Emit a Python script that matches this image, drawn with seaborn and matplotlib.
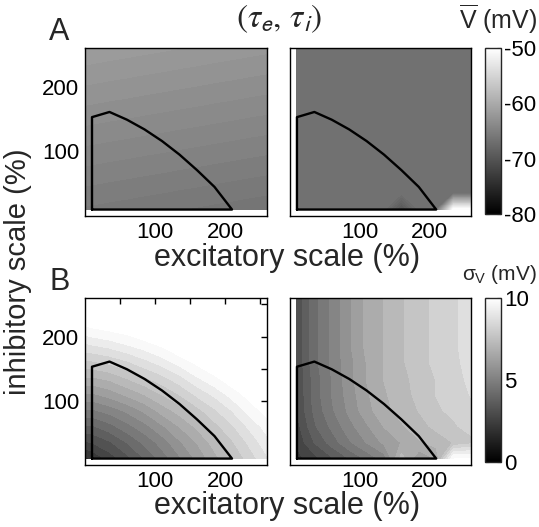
import numpy as np
import matplotlib
matplotlib.use("Agg")
import matplotlib.pyplot as plt
import seaborn as sns
from matplotlib.cm import ScalarMappable
from matplotlib.colors import Normalize

nan = np.nan

# Grid of synaptic scalings (% of control)
exc_scale = [0, 10, 35, 60, 85, 110, 135, 160, 185, 210, 235, 260]
inh_scale = [10, 35, 60, 85, 110, 135, 160, 185, 210, 235, 260]

# Mean membrane potential (mV), rows follow inh_scale, columns exc_scale
v_mean_left = [
    [-65.58, -65.61, -65.69, -65.76, -65.84, -65.91, -65.99, -66.06, -66.14, -66.21, -66.29, -66.36],
    [-65.18, -65.21, -65.29, -65.36, -65.44, -65.51, -65.59, -65.66, -65.74, -65.81, -65.89, -65.96],
    [-64.78, -64.81, -64.89, -64.96, -65.04, -65.11, -65.19, -65.26, -65.34, -65.41, -65.49, -65.56],
    [-64.38, -64.41, -64.49, -64.56, -64.64, -64.71, -64.79, -64.86, -64.94, -65.01, -65.09, -65.16],
    [-63.98, -64.01, -64.09, -64.16, -64.24, -64.31, -64.39, -64.46, -64.54, -64.61, -64.69, -64.76],
    [-63.58, -63.61, -63.69, -63.76, -63.84, -63.91, -63.99, -64.06, -64.14, -64.21, -64.29, -64.36],
    [-63.18, -63.21, -63.29, -63.36, -63.44, -63.51, -63.59, -63.66, -63.74, -63.81, -63.89, -63.96],
    [-62.78, -62.81, -62.89, -62.96, -63.04, -63.11, -63.19, -63.26, -63.34, -63.41, -63.49, -63.56],
    [-62.38, -62.41, -62.49, -62.56, -62.64, -62.71, -62.79, -62.86, -62.94, -63.01, -63.09, -63.16],
    [-61.98, -62.01, -62.09, -62.16, -62.24, -62.31, -62.39, -62.46, -62.54, -62.61, -62.69, -62.76],
    [-61.58, -61.61, -61.69, -61.76, -61.84, -61.91, -61.99, -62.06, -62.14, -62.21, -62.29, -62.36],
]
v_mean_right = [
    [nan, -66.9, -66.9, -66.9, -66.9, -66.9, -66.9, -70.0, -66.9, -66.9, -49.5, -49.5],
    [nan, -66.9, -66.9, -66.9, -66.9, -66.9, -66.9, -66.9, -66.9, -66.9, -66.9, -66.9],
    [nan, -66.9, -66.9, -66.9, -66.9, -66.9, -66.9, -66.9, -66.9, -66.9, -66.9, -66.9],
    [nan, -66.9, -66.9, -66.9, -66.9, -66.9, -66.9, -66.9, -66.9, -66.9, -66.9, -66.9],
    [nan, -66.9, -66.9, -66.9, -66.9, -66.9, -66.9, -66.9, -66.9, -66.9, -66.9, -66.9],
    [nan, -66.9, -66.9, -66.9, -66.9, -66.9, -66.9, -66.9, -66.9, -66.9, -66.9, -66.9],
    [nan, -66.9, -66.9, -66.9, -66.9, -66.9, -66.9, -66.9, -66.9, -66.9, -66.9, -66.9],
    [nan, -66.9, -66.9, -66.9, -66.9, -66.9, -66.9, -66.9, -66.9, -66.9, -66.9, -66.9],
    [nan, -66.9, -66.9, -66.9, -66.9, -66.9, -66.9, -66.9, -66.9, -66.9, -66.9, -66.9],
    [nan, -66.9, -66.9, -66.9, -66.9, -66.9, -66.9, -66.9, -66.9, -66.9, -66.9, -66.9],
    [nan, -66.9, -66.9, -66.9, -66.9, -66.9, -66.9, -66.9, -66.9, -66.9, -66.9, -66.9],
]

# Standard deviation of the membrane potential (mV)
v_std_left = [
    [1.9, 2.0, 2.7, 3.3, 4.0, 4.7, 5.4, 6.1, 6.8, 7.5, 8.2, 8.9],
    [2.9, 3.0, 3.4, 4.0, 4.6, 5.2, 5.9, 6.5, 7.2, 7.9, 8.6, 9.3],
    [3.9, 3.9, 4.3, 4.8, 5.3, 5.9, 6.5, 7.1, 7.8, 8.4, 9.1, 9.7],
    [4.9, 4.9, 5.2, 5.6, 6.1, 6.7, 7.2, 7.8, 8.4, 9.0, 9.7, 10.3],
    [5.9, 5.9, 6.2, 6.6, 7.0, 7.5, 8.0, 8.6, 9.1, 9.7, 10.3, 11.0],
    [6.9, 6.9, 7.1, 7.5, 7.9, 8.3, 8.8, 9.4, 9.9, 10.5, 11.1, 11.7],
    [7.9, 7.9, 8.1, 8.4, 8.8, 9.2, 9.7, 10.2, 10.7, 11.3, 11.8, 12.4],
    [8.8, 8.9, 9.1, 9.4, 9.7, 10.1, 10.6, 11.1, 11.6, 12.1, 12.6, 13.2],
    [9.8, 9.9, 10.1, 10.3, 10.7, 11.1, 11.5, 11.9, 12.4, 12.9, 13.4, 14.0],
    [10.8, 10.9, 11.0, 11.3, 11.6, 12.0, 12.4, 12.8, 13.3, 13.8, 14.3, 14.8],
    [11.8, 11.9, 12.0, 12.3, 12.6, 12.9, 13.3, 13.7, 14.2, 14.7, 15.1, 15.6],
]
v_std_right = [
    [nan, 2.3, 2.8, 3.4, 4.0, 4.6, 5.2, 7.2, 6.1, 6.5, 10.1, 10.1],
    [nan, 2.6, 3.5, 4.2, 4.9, 5.5, 6.1, 6.5, 6.9, 7.2, 7.5, 7.8],
    [nan, 2.8, 3.9, 4.6, 5.3, 5.9, 6.5, 6.9, 7.3, 7.6, 7.9, 8.2],
    [nan, 3.0, 4.1, 4.9, 5.6, 6.3, 6.8, 7.2, 7.5, 7.9, 8.1, 8.4],
    [nan, 3.0, 4.2, 5.0, 5.7, 6.4, 6.9, 7.3, 7.6, 8.0, 8.3, 8.5],
    [nan, 3.0, 4.2, 5.0, 5.8, 6.5, 7.0, 7.3, 7.7, 8.0, 8.3, 8.6],
    [nan, 3.1, 4.3, 5.1, 5.8, 6.5, 7.0, 7.4, 7.8, 8.1, 8.4, 8.6],
    [nan, 3.1, 4.3, 5.1, 5.9, 6.6, 7.0, 7.4, 7.8, 8.1, 8.4, 8.7],
    [nan, 3.1, 4.3, 5.1, 5.9, 6.6, 7.0, 7.4, 7.8, 8.1, 8.4, 8.7],
    [nan, 3.1, 4.3, 5.1, 5.9, 6.6, 7.0, 7.4, 7.8, 8.1, 8.4, 8.7],
    [nan, 3.1, 4.3, 5.1, 5.9, 6.6, 7.0, 7.4, 7.8, 8.1, 8.4, 8.7],
]

# Outline of the physiological region
region_exc = [10, 10, 35, 60, 85, 110, 135, 160, 185, 210, 10]
region_inh = [10, 153, 161, 149, 134, 116, 95, 71, 45, 10, 10]

axis_ticks = [50, 100, 150, 200, 250]
axis_ticklabels = ['', '100', '', '200', '']

sns.set_style("white")
plt.rcParams['font.family'] = ['Liberation Sans', 'DejaVu Sans']
plt.rcParams['axes.unicode_minus'] = False
plt.rcParams['mathtext.fontset'] = 'custom'
plt.rcParams['mathtext.rm'] = 'Liberation Sans'
plt.rcParams['mathtext.it'] = 'Liberation Sans'
plt.rcParams['mathtext.sf'] = 'Liberation Sans'

W, H = 539, 527
fig = plt.figure(figsize=(W / 100, H / 100), dpi=100)


def rect(l, t, r, b):
    return [l / W, 1 - b / H, (r - l) / W, (b - t) / H]


X, Y = np.meshgrid(exc_scale, inh_scale)
TICK = 16
v_levels = np.arange(-80, -49.9, 0.5)
s_levels = np.arange(0, 10.01, 0.5) - 0.02
panels = [
    (rect(85, 48, 267, 216), v_mean_left, v_levels, (-80, -50), True),
    (rect(290, 48, 471, 216), v_mean_right, v_levels, (-80, -50), False),
    (rect(85, 298, 267, 465), v_std_left, s_levels, (0, 10), True),
    (rect(290, 298, 471, 465), v_std_right, s_levels, (0, 10), False),
]
for r, Z, lev, (lo, hi), left in panels:
    ax = fig.add_axes(r)
    ax.contourf(X, Y, np.array(Z, float), levels=lev, cmap='gray', vmin=lo, vmax=hi)
    sns.lineplot(x=region_exc, y=region_inh, sort=False, estimator=None,
                 color='k', lw=1.7, ax=ax)
    ax.set_xlim(0, 260)
    ax.set_ylim(0, 260)
    ax.set_xticks(axis_ticks, axis_ticklabels)
    ax.set_yticks(axis_ticks, axis_ticklabels if left else [''] * 5)
    ax.tick_params(direction='in', top=True, right=True, length=4, width=1,
                   labelsize=TICK, pad=4, colors='k')
    for s in ax.spines.values():
        s.set_color('k')
        s.set_linewidth(1)

for (t, b), (lo, hi), ticks in [((48, 214), (-80, -50), [-80, -70, -60, -50]),
                                ((298, 462), (0, 10), [0, 5, 10])]:
    cax = fig.add_axes(rect(485, t, 501, b))
    cb = fig.colorbar(ScalarMappable(Normalize(lo, hi), cmap='gray'), cax=cax, ticks=ticks)
    cax.tick_params(direction='in', left=True, right=True, length=3, width=0.8,
                    labelsize=TICK, pad=2, colors='k')
    cb.outline.set_linewidth(1)

fig.text(59 / W, 1 - 32 / H, 'A', fontsize=22, ha='center', va='center')
fig.text(60 / W, 1 - 282 / H, 'B', fontsize=22, ha='center', va='center')
fig.text(279 / W, 1 - 19 / H, r'$(\tau_{\mathsf{e}},\, \tau_{\mathsf{i}})$', fontsize=24,
         ha='center', va='center', math_fontfamily='stix')
fig.text(537 / W, 1 - 19 / H, r'$\overline{\mathrm{V}}$ (mV)', fontsize=18, ha='right', va='center')
fig.text(537 / W, 1 - 275 / H, r'$\sigma_{\mathrm{V}}$ (mV)', fontsize=15, ha='right', va='center')
for yb in (266, 514):
    fig.text(287 / W, 1 - yb / H, 'excitatory scale (%)', fontsize=22, ha='center', va='baseline')
fig.text(18 / W, 1 - 272 / H, 'inhibitory scale (%)', fontsize=21, ha='center', va='center',
         rotation=90)

fig.savefig('out.png', dpi=100)
